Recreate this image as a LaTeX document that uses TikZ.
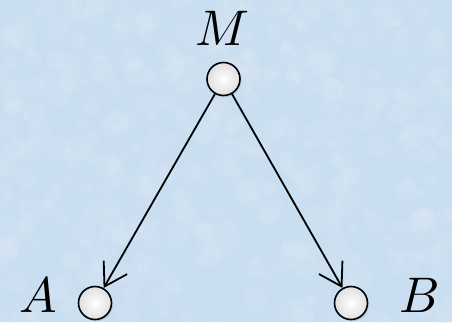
\documentclass[tikz,border=0pt]{standalone}
\usepackage{graphicx}
\usetikzlibrary{arrows.meta,shadows}
\definecolor{bgblue}{RGB}{201,222,240}
\definecolor{bglight}{RGB}{222,234,246}
\tikzset{
  dot/.style={circle,draw=black,line width=1.6pt,minimum size=33pt,inner sep=0pt,
    inner color=white,outer color=gray!25,
    drop shadow={shadow xshift=1.5pt,shadow yshift=-1.8pt,opacity=0.2}},
  lbl/.style={inner sep=0pt,anchor=base},
  arr/.style={line width=1.8pt,-{Straight Barb[length=22pt,width=27pt,line width=1.8pt]}}
}
\newcommand{\biglbl}[1]{\scalebox{5}{$#1$}}
\begin{document}
\begin{tikzpicture}[x=1pt,y=-1pt]
\useasboundingbox (0,0) rectangle (452,322);
\fill[bgblue] (0,0) rectangle (452,322);
\pgfmathsetseed{11}
\begin{scope}
\clip (0,0) rectangle (452,322);
\foreach \i in {1,...,500}{
  \pgfmathsetmacro{\px}{rnd*452}
  \pgfmathsetmacro{\py}{rnd*322}
  \pgfmathsetmacro{\pr}{3+rnd*10}
  \fill[bglight,opacity=0.22] (\px,\py) circle[radius=\pr];
}
\end{scope}
\node[dot] (M) at (223.5,79) {};
\node[dot] (A) at (95,303) {};
\node[dot] (B) at (351,303) {};
\node[lbl] (lM) at (222,45) {\biglbl{M}};
\node[lbl] (lA) at (38,312) {\biglbl{A}};
\node[lbl] (lB) at (420,312) {\biglbl{B}};
\draw[arr] (M) -- (A);
\draw[arr] (M) -- (B);
\end{tikzpicture}
\end{document}
